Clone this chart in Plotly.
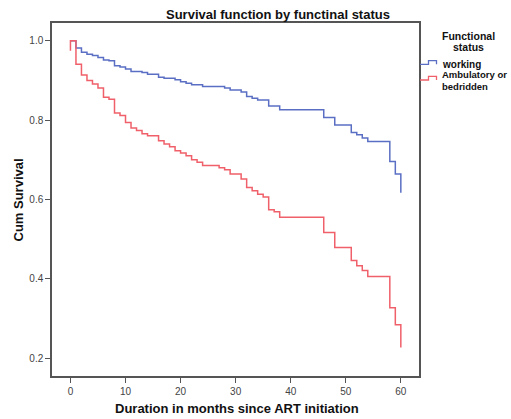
import plotly.graph_objects as go

# Kaplan-Meier step data
months_working = [0, 1, 2, 3, 4, 5, 6, 7, 8, 9, 10, 11, 13, 14, 16, 17, 19, 20, 21, 22,
                  24, 28, 29, 31, 32, 33, 34, 36, 38, 46, 48, 51, 52, 53, 54, 58, 59, 60]
surv_working = [1.0, 0.982, 0.971, 0.966, 0.963, 0.958, 0.952, 0.950, 0.937, 0.934, 0.929,
                0.923, 0.920, 0.916, 0.908, 0.906, 0.902, 0.897, 0.893, 0.889, 0.885, 0.881,
                0.876, 0.871, 0.860, 0.855, 0.851, 0.836, 0.826, 0.807, 0.788, 0.769, 0.763,
                0.755, 0.746, 0.696, 0.664, 0.617]

months_ambulatory = [0, 0, 1, 2, 3, 4, 5, 6, 7, 8, 9, 10, 11, 12, 13, 14, 16, 17, 18, 19, 20,
                     21, 22, 23, 24, 27, 28, 29, 31, 32, 33, 34, 35, 36, 37, 38, 46, 48, 51,
                     52, 53, 54, 58, 59, 60]
surv_ambulatory = [0.975, 1.0, 0.941, 0.914, 0.900, 0.891, 0.881, 0.858, 0.853, 0.818, 0.812,
                   0.794, 0.780, 0.774, 0.766, 0.761, 0.748, 0.740, 0.733, 0.723, 0.717, 0.710,
                   0.700, 0.694, 0.686, 0.680, 0.675, 0.664, 0.652, 0.630, 0.622, 0.613, 0.606,
                   0.574, 0.569, 0.555, 0.517, 0.479, 0.446, 0.433, 0.421, 0.406, 0.327, 0.284,
                   0.227]

series_names = ["working", "Ambulatory or<br>bedridden"]
x_ticks = [0, 10, 20, 30, 40, 50, 60]
y_ticks = [0.2, 0.4, 0.6, 0.8, 1.0]

BLUE = "#5a6fc3"
RED = "#f0606a"
FONT = "Liberation Sans, Arial, sans-serif"

W, H = 511, 419
L, R, T, B = 52, 419, 23, 376  # plot area in px


def px(x):
    return (x - L) / (R - L)


def py(y):
    return (B - y) / (B - T)


fig = go.Figure()
fig.add_trace(go.Scatter(x=months_working, y=surv_working, mode="lines",
                         line=dict(color=BLUE, width=1.5, shape="hv"),
                         name=series_names[0], showlegend=False))
fig.add_trace(go.Scatter(x=months_ambulatory, y=surv_ambulatory, mode="lines",
                         line=dict(color=RED, width=1.5, shape="hv"),
                         name=series_names[1], showlegend=False))

axis_common = dict(showgrid=False, zeroline=False, showline=True, mirror=True,
                   linecolor="#555555", linewidth=1.5, ticks="outside", ticklen=5,
                   tickcolor="#555555", tickwidth=1,
                   tickfont=dict(family=FONT, size=10, color="#444444"))

fig.update_xaxes(range=[-3.35, 63.3], tickvals=x_ticks, **axis_common)
fig.update_yaxes(range=[0.155, 1.045], tickvals=y_ticks, tickformat=".1f", **axis_common)

annotations = [
    dict(text="<b>Survival function by functinal status</b>", x=px(278), y=py(14),
         font=dict(family=FONT, size=13, color="#111111")),
    dict(text="<b>Duration in months since ART initiation</b>", x=px(237), y=py(408),
         font=dict(family=FONT, size=13, color="#111111")),
    dict(text="<b>Cum Survival</b>", x=px(17.5), y=py(200), textangle=-90,
         font=dict(family=FONT, size=13, color="#111111")),
    dict(text="<b>Functional</b>", x=px(468), y=py(35.7),
         font=dict(family=FONT, size=10.5, color="#111111")),
    dict(text="<b>status</b>", x=px(468), y=py(46.7),
         font=dict(family=FONT, size=10.5, color="#111111")),
    dict(text="<b>" + series_names[0] + "</b>", x=px(439.5), y=py(64), xanchor="left",
         font=dict(family=FONT, size=10, color="#111111")),
    dict(text="<b>" + series_names[1] + "</b>", x=px(439.5), y=py(80.5), xanchor="left",
         align="left", font=dict(family=FONT, size=9.5, color="#111111")),
]
for a in annotations:
    a.update(xref="paper", yref="paper", showarrow=False, xanchor=a.get("xanchor", "center"),
             yanchor="middle")


def glyph(y0, color):
    pts = [(420, y0), (428.5, y0), (428.5, y0 - 3.7), (436.5, y0 - 3.7), (436.5, y0)]
    d = "M " + " L ".join(f"{px(a):.4f},{py(b):.4f}" for a, b in pts)
    return dict(type="path", path=d, xref="paper", yref="paper",
                line=dict(color=color, width=1.3))


fig.update_layout(
    width=W, height=H,
    margin=dict(l=L, r=W - R, t=T, b=H - B),
    paper_bgcolor="white", plot_bgcolor="white",
    annotations=annotations,
    shapes=[glyph(64.3, BLUE), glyph(80.0, RED)],
    showlegend=False,
)

fig.write_html("out.html")
